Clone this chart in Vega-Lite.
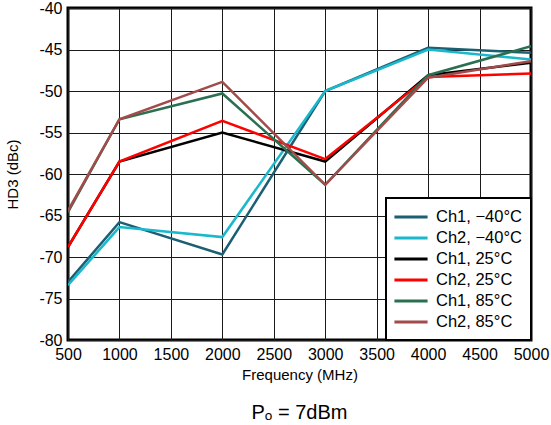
{
  "$schema": "https://vega.github.io/schema/vega-lite/v6.json",
  "autosize": {"type": "none"},
  "width": 463,
  "height": 332,
  "padding": {"left": 68, "top": 8, "right": 20, "bottom": 85},
  "background": "white",
  "config": {
    "font": "Liberation Sans",
    "view": {"stroke": "black", "strokeWidth": 3},
    "legend": {"strokeColor": "black", "strokeWidth": 2},
    "axis": {
      "domain": false,
      "ticks": false,
      "grid": true,
      "gridColor": "#1a1a1a",
      "gridWidth": 1,
      "gridOpacity": 1,
      "labelFont": "Liberation Sans",
      "labelFontSize": 16,
      "labelColor": "black",
      "titleFont": "Liberation Sans",
      "titleFontSize": 15,
      "titleFontWeight": "normal",
      "titleColor": "black"
    }
  },
  "title": {
    "text": "Pₒ = 7dBm",
    "orient": "bottom",
    "anchor": "middle",
    "font": "Liberation Sans",
    "fontSize": 20,
    "fontWeight": "normal",
    "color": "black",
    "offset": 21
  },
  "data": {
    "values": [
      {"freq": 500, "hd3": -73.0, "series": "Ch1, −40°C"},
      {"freq": 1000, "hd3": -65.8, "series": "Ch1, −40°C"},
      {"freq": 2000, "hd3": -69.7, "series": "Ch1, −40°C"},
      {"freq": 3000, "hd3": -50.0, "series": "Ch1, −40°C"},
      {"freq": 4000, "hd3": -44.8, "series": "Ch1, −40°C"},
      {"freq": 5000, "hd3": -45.4, "series": "Ch1, −40°C"},
      {"freq": 500, "hd3": -73.4, "series": "Ch2, −40°C"},
      {"freq": 1000, "hd3": -66.4, "series": "Ch2, −40°C"},
      {"freq": 2000, "hd3": -67.6, "series": "Ch2, −40°C"},
      {"freq": 3000, "hd3": -50.0, "series": "Ch2, −40°C"},
      {"freq": 4000, "hd3": -45.0, "series": "Ch2, −40°C"},
      {"freq": 5000, "hd3": -46.2, "series": "Ch2, −40°C"},
      {"freq": 500, "hd3": -68.8, "series": "Ch1, 25°C"},
      {"freq": 1000, "hd3": -58.5, "series": "Ch1, 25°C"},
      {"freq": 2000, "hd3": -55.0, "series": "Ch1, 25°C"},
      {"freq": 3000, "hd3": -58.5, "series": "Ch1, 25°C"},
      {"freq": 4000, "hd3": -48.1, "series": "Ch1, 25°C"},
      {"freq": 5000, "hd3": -46.6, "series": "Ch1, 25°C"},
      {"freq": 500, "hd3": -68.8, "series": "Ch2, 25°C"},
      {"freq": 1000, "hd3": -58.5, "series": "Ch2, 25°C"},
      {"freq": 2000, "hd3": -53.6, "series": "Ch2, 25°C"},
      {"freq": 3000, "hd3": -58.2, "series": "Ch2, 25°C"},
      {"freq": 4000, "hd3": -48.3, "series": "Ch2, 25°C"},
      {"freq": 5000, "hd3": -47.9, "series": "Ch2, 25°C"},
      {"freq": 500, "hd3": -64.6, "series": "Ch1, 85°C"},
      {"freq": 1000, "hd3": -53.4, "series": "Ch1, 85°C"},
      {"freq": 2000, "hd3": -50.3, "series": "Ch1, 85°C"},
      {"freq": 3000, "hd3": -61.3, "series": "Ch1, 85°C"},
      {"freq": 4000, "hd3": -48.1, "series": "Ch1, 85°C"},
      {"freq": 5000, "hd3": -44.6, "series": "Ch1, 85°C"},
      {"freq": 500, "hd3": -64.4, "series": "Ch2, 85°C"},
      {"freq": 1000, "hd3": -53.4, "series": "Ch2, 85°C"},
      {"freq": 2000, "hd3": -48.9, "series": "Ch2, 85°C"},
      {"freq": 3000, "hd3": -61.3, "series": "Ch2, 85°C"},
      {"freq": 4000, "hd3": -48.4, "series": "Ch2, 85°C"},
      {"freq": 5000, "hd3": -46.4, "series": "Ch2, 85°C"}
    ]
  },
  "mark": {"type": "line", "strokeWidth": 2.5, "clip": true},
  "encoding": {
    "x": {
      "field": "freq",
      "type": "quantitative",
      "title": "Frequency (MHz)",
      "scale": {"domain": [500, 5000], "nice": false},
      "axis": {
        "values": [500, 1000, 1500, 2000, 2500, 3000, 3500, 4000, 4500, 5000],
        "labelPadding": 6,
        "titlePadding": 5,
        "labelExpr": "'' + datum.value",
        "labelFlush": false
      }
    },
    "y": {
      "field": "hd3",
      "type": "quantitative",
      "title": "HD3 (dBc)",
      "scale": {"domain": [-80, -40], "nice": false, "zero": false},
      "axis": {
        "values": [-80, -75, -70, -65, -60, -55, -50, -45, -40],
        "labelPadding": 6,
        "titlePadding": 18,
        "labelExpr": "'' + datum.value",
        "labelFlush": false
      }
    },
    "color": {
      "field": "series",
      "type": "nominal",
      "title": null,
      "sort": null,
      "scale": {
        "domain": ["Ch1, −40°C", "Ch2, −40°C", "Ch1, 25°C", "Ch2, 25°C", "Ch1, 85°C", "Ch2, 85°C"],
        "range": ["#1b5f73", "#19b8cc", "#000000", "#ff0000", "#2a7050", "#a34a4a"]
      },
      "legend": {
        "orient": "bottom-right",
        "offset": 0,
        "fillColor": "white",
        "strokeColor": "black",
        "padding": 9,
        "symbolType": "M-1.95,0H1.95",
        "symbolSize": 289,
        "symbolStrokeWidth": 3,
        "symbolOffset": 6,
        "labelFont": "Liberation Sans",
        "labelFontSize": 16.5,
        "labelColor": "black",
        "rowPadding": 2,
        "labelOffset": 15
      }
    }
  }
}
